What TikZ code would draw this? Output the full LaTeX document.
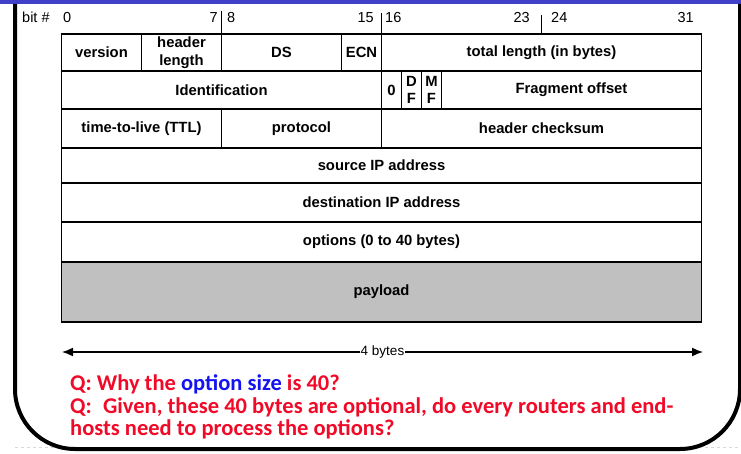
\documentclass[tikz,border=0pt]{standalone}
\usepackage{fontspec}
\setmainfont{Liberation Sans}
\newfontfamily\qfont{Carlito}
\usetikzlibrary{positioning,
                arrows.meta}
\definecolor{barblue}{RGB}{64,64,200}
\definecolor{qred}{RGB}{240,10,40}
\definecolor{qblue}{RGB}{20,20,240}
\definecolor{loadgray}{RGB}{192,192,192}
\tikzset{
  field/.style 2 args={draw,line width=1.5pt,outer sep=0pt,inner sep=0pt,
                       align=center,minimum width=#1,minimum height=#2,
                       font=\fontsize{14.8}{17.5}\selectfont\bfseries},
  bitno/.style={inner sep=0pt,font=\fontsize{14.5}{14.5}\selectfont},
  bittick/.style={line width=1pt},
  question/.style={inner sep=0pt,anchor=base west,text=qred,
                   font=\qfont\bfseries\fontsize{22.5}{24}\selectfont}
}

\begin{document}
\begin{tikzpicture}[x=1pt,y=-1pt]
 \useasboundingbox (0,0) rectangle (741,454);
 % slide frame
 \fill[barblue] (0,0) rectangle (741,4);
 \draw[dashed,black!15] (15,447) -- (741,447);
 \draw[line width=4pt,rounded corners=60pt] (15,4) -- (15,449) -- (740,449) -- (740,4);

 % bit numbers
 \node[bitno,anchor=base west] (bit) at (22,23) {bit \#};
 \node[bitno,anchor=base west] (b0)  at (63,23)  {0};
 \node[bitno,anchor=base east] (b7)  at (218,23) {7};
 \node[bitno,anchor=base west] (b8)  at (227,23) {8};
 \node[bitno,anchor=base east] (b15) at (374,23) {15};
 \node[bitno,anchor=base west] (b16) at (385,23) {16};
 \node[bitno,anchor=base east] (b23) at (530,23) {23};
 \node[bitno,anchor=base west] (b24) at (551,23) {24};
 \node[bitno,anchor=base east] (b31) at (694,23) {31};

 % header rows
 \node[field={80pt}{37pt},anchor=north west] (version) at (61.5,34) {version};
 \node[field={80pt}{37pt},right=0pt of version] (hlen) {header\\length};
 \node[field={120pt}{37pt},right=0pt of hlen] (ds) {DS};
 \node[field={40pt}{37pt},right=0pt of ds] (ecn) {ECN};
 \node[field={320pt}{37pt},right=0pt of ecn] (totlen) {total length (in bytes)};

 \node[field={320pt}{38pt},below right=0pt of version.south west] (ident) {Identification};
 \node[field={20pt}{38pt},right=0pt of ident] (zero) {0};
 \node[field={20pt}{38pt},right=0pt of zero] (df) {D\\F};
 \node[field={20pt}{38pt},right=0pt of df] (mf) {M\\F};
 \node[field={260pt}{38pt},right=0pt of mf] (fragoff) {Fragment offset};

 \node[field={160pt}{39pt},below right=0pt of ident.south west] (ttl) {time-to-live (TTL)};
 \node[field={160pt}{39pt},right=0pt of ttl] (proto) {protocol};
 \node[field={320pt}{39pt},right=0pt of proto] (chksum) {header checksum};

 \node[field={640pt}{35pt},below right=0pt of ttl.south west] (srcip) {source IP address};
 \node[field={640pt}{39pt},below right=0pt of srcip.south west] (dstip) {destination IP address};
 \node[field={640pt}{40pt},below right=0pt of dstip.south west] (opts) {options (0 to 40 bytes)};
 \node[field={640pt}{60pt},fill=loadgray,below right=0pt of opts.south west] (payload) {payload};

 % byte boundaries
 \coordinate (t8)  at (221.5,11);
 \coordinate (t16) at (381.5,13);
 \coordinate (t24) at (541.5,15);
 \draw[bittick] (t8) -- (hlen.north east);
 \draw[bittick] (t16) -- (ecn.north east);
 \draw[bittick] (t24) -- (totlen.north);

 % width
 \coordinate (wl) at (62,352);
 \coordinate (wr) at (703,352);
 \draw[line width=1.5pt,{Latex[length=11pt,width=9pt]}-{Latex[length=11pt,width=9pt]}]
   (wl) -- node[fill=white,inner sep=1pt,font=\fontsize{13.5}{13.5}\selectfont] (width) {4 bytes} (wr);

 % questions
 \node[question] (q1) at (70,390) {Q: Why the \textcolor{qblue}{option size} is 40?};
 \node[question] (q2) at (70,413) {Q:\enspace Given, these 40 bytes are optional, do every routers and end-};
 \node[question] (q3) at (70,435) {hosts need to process the options?};
\end{tikzpicture}
\end{document}
